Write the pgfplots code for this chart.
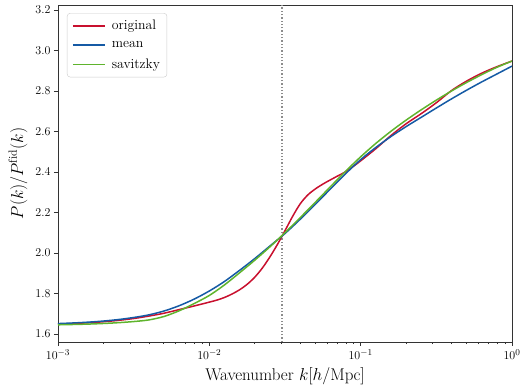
\documentclass[border=0pt]{standalone}
\usepackage{fontspec}
\usepackage{pgfplots}
\pgfplotsset{compat=1.18}
\definecolor{cred}{RGB}{200,16,46}
\definecolor{cblue}{RGB}{21,90,165}
\definecolor{cgreen}{RGB}{95,180,45}

\pgfplotstableread{
k y
0.001 1.648
0.0012589 1.651
0.0015849 1.655
0.0019953 1.660
0.0025119 1.667
0.0031623 1.676
0.0039811 1.688
0.0050119 1.702
0.0063096 1.720
0.0079433 1.738
0.01 1.757
0.011220 1.767
0.012589 1.780
0.014125 1.797
0.015849 1.818
0.017783 1.845
0.019953 1.880
0.022387 1.925
0.025119 1.980
0.028184 2.042
0.031623 2.110
0.035481 2.180
0.039811 2.242
0.044668 2.286
0.050119 2.316
0.056234 2.340
0.063096 2.361
0.070795 2.381
0.079433 2.401
0.089125 2.427
0.1 2.455
0.12589 2.515
0.15849 2.580
0.19953 2.638
0.25119 2.688
0.31623 2.742
0.39811 2.802
0.50119 2.849
0.63096 2.888
0.79433 2.920
1 2.948
}\orig

\pgfplotstableread{
k y
0.001 1.651
0.0012589 1.654
0.0015849 1.658
0.0019953 1.6635
0.0025119 1.671
0.0031623 1.681
0.0039811 1.694
0.0050119 1.713
0.0063096 1.739
0.0079433 1.772
0.01 1.812
0.012589 1.859
0.015849 1.914
0.019953 1.972
0.025119 2.034
0.031623 2.096
0.039811 2.166
0.050119 2.240
0.063096 2.316
0.079433 2.391
0.1 2.461
0.12589 2.521
0.15849 2.575
0.19953 2.624
0.25119 2.670
0.31623 2.716
0.39811 2.761
0.50119 2.804
0.63096 2.845
0.79433 2.884
1 2.923
}\mean

\pgfplotstableread{
k y
0.001 1.645
0.0012589 1.6465
0.0015849 1.6485
0.0019953 1.6515
0.0025119 1.6555
0.0031623 1.661
0.0039811 1.669
0.0050119 1.686
0.0063096 1.714
0.0079433 1.750
0.01 1.790
0.012589 1.842
0.015849 1.902
0.019953 1.964
0.025119 2.030
0.031623 2.100
0.039811 2.174
0.050119 2.250
0.063096 2.327
0.079433 2.403
0.1 2.475
0.12589 2.541
0.15849 2.601
0.19953 2.656
0.25119 2.707
0.31623 2.755
0.39811 2.800
0.50119 2.842
0.63096 2.881
0.79433 2.917
1 2.948
}\savg

\begin{document}
\begin{tikzpicture}
\begin{axis}[
  scale only axis, width=454pt, height=337pt,
  xmode=log, xmin=1e-3, xmax=1, ymin=1.56, ymax=3.225,
  ytick={1.6,1.8,2.0,2.2,2.4,2.6,2.8,3.0,3.2},
  yticklabel style={/pgf/number format/.cd, fixed, fixed zerofill, precision=1},
  ticklabel style={font=\fontsize{12.5}{14}\selectfont},
  xtick pos=bottom, ytick pos=left, tick align=outside,
  major tick length=4pt, minor tick length=2.2pt,
  axis line style={black!80, line width=0.9pt},
  every tick/.style={black!80, line width=0.8pt},
  xlabel={Wavenumber $k[h/\mathrm{Mpc}]$},
  ylabel={$P(k)/P^{\mathrm{fid}}(k)$},
  label style={font=\fontsize{17}{20}\selectfont},
  xlabel style={at={(axis description cs:0.5,-0.1128)}, anchor=base},
  ylabel style={at={(axis description cs:-0.088,0.5)}, anchor=center, rotate=0},
  legend cell align=left,
  legend style={at={(0.0198,0.976)}, anchor=north west, draw=black!20,
    rounded corners=3pt, fill=white, font=\fontsize{13.8}{16}\selectfont,
    inner xsep=5pt, inner ysep=5pt, row sep=6pt,
    /tikz/every even column/.append style={column sep=8pt}},
  legend image code/.code={\draw[#1, line width=1.6pt] (0pt,0pt) -- (32pt,0pt);},
]
\addplot[forget plot, color=black!45, line width=1.3pt, dash pattern=on 1.3pt off 2pt] coordinates {(0.0302,1.56) (0.0302,3.225)};
\addplot[cred, line width=1.5pt, smooth] table[x=k,y=y] {\orig};
\addlegendentry{\hspace{4pt}original}
\addplot[cblue, line width=1.5pt, smooth] table[x=k,y=y] {\mean};
\addlegendentry{\hspace{4pt}mean}
\addplot[cgreen, line width=1.5pt, smooth] table[x=k,y=y] {\savg};
\addlegendentry{\hspace{4pt}savitzky}
\end{axis}
\pgfresetboundingbox
\path (current axis.south west) ++(-58pt,-43pt) coordinate (bbA);
\path (current axis.north east) ++(8pt,5pt) coordinate (bbB);
\useasboundingbox (bbA) rectangle (bbB);
\end{tikzpicture}
\end{document}
